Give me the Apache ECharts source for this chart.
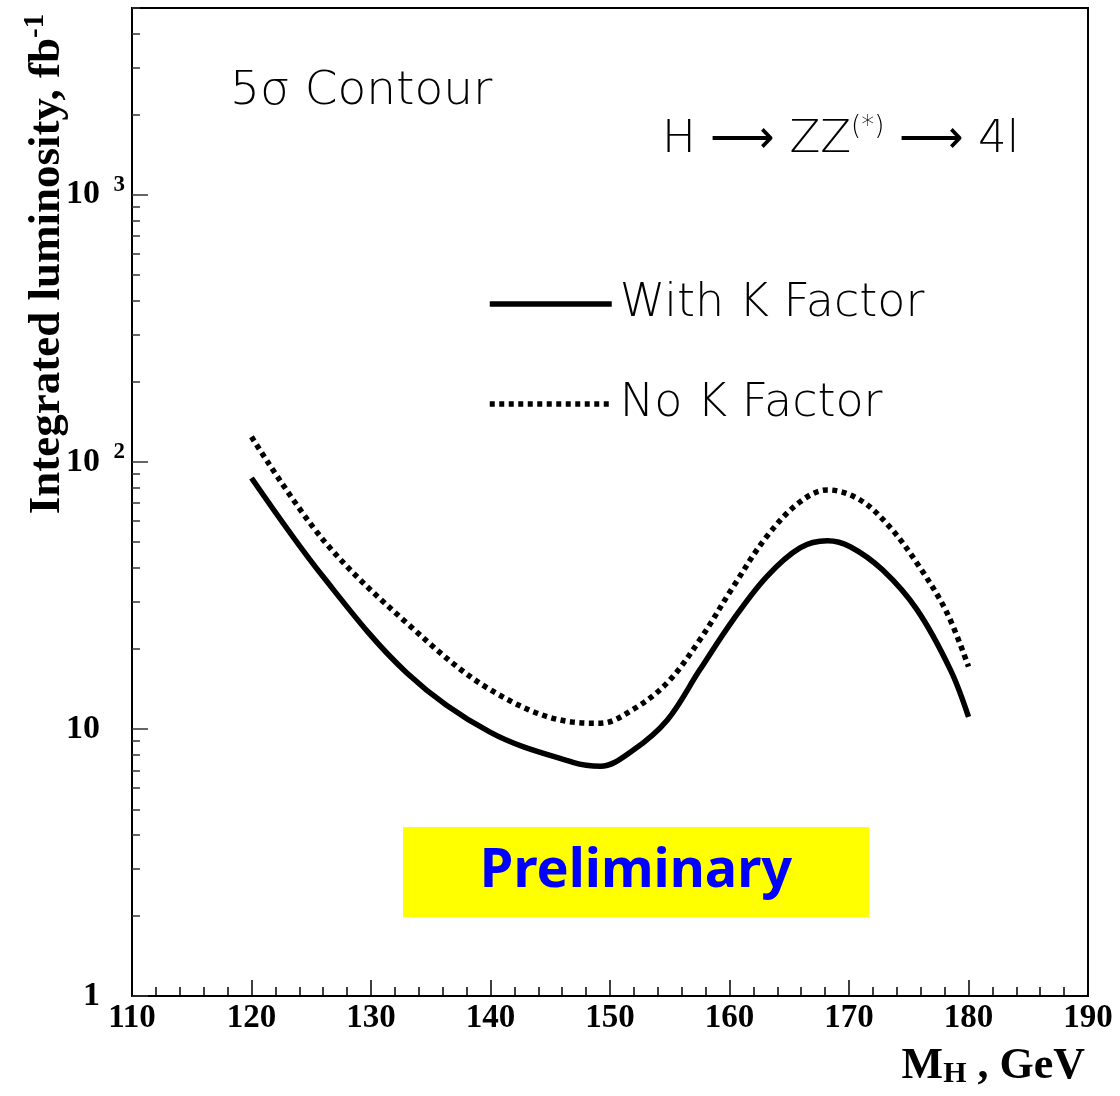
<!DOCTYPE html>
<html>
<head>
<meta charset="utf-8">
<script src="https://cdn.jsdelivr.net/npm/echarts@6/dist/echarts.min.js"></script>
<style>html,body{margin:0;padding:0;background:#fff;}#chart{width:1120px;height:1096px;}</style>
</head>
<body>
<div id="chart"></div>
<script>
// ---- data ----
const withK_mass = [120, 126, 133, 140, 146.9, 149.2, 151.9, 154.8, 157.5, 160.3, 163.1, 165.9, 168.2, 170.1, 172.8, 175.7, 178.5, 180];
const withK_lumi = [87, 37.1, 16.2, 9.7, 7.5, 7.25, 8.3, 10.8, 16.6, 25.6, 37.1, 47.6, 50.6, 48.1, 39.4, 27.9, 16.6, 11.1];
const noK_mass = [120, 126, 133, 140, 146.9, 149.2, 151.9, 154.8, 157.5, 160.3, 163.1, 165.9, 168.2, 170.9, 173.4, 175.9, 178.2, 180];
const noK_lumi = [124, 51, 24.9, 14.0, 10.6, 10.5, 11.8, 14.9, 21.5, 34.0, 52.4, 70.8, 78.5, 72.1, 57.1, 40.4, 27.2, 17.1];
const yMajorTicks = [1, 10, 100, 1000];
const yMinorTicks = [2,3,4,5,6,7,8,9,20,30,40,50,60,70,80,90,200,300,400,500,600,700,800,900,2000,3000,4000,5000];
const xTickLabels = [110, 120, 130, 140, 150, 160, 170, 180, 190];
const yExponentLabels = {1: ['1', ''], 10: ['10', ''], 100: ['10', '2'], 1000: ['10', '3']};

const zip = (a, b) => a.map((v, i) => [v, b[i]]);
const serif = "'Liberation Serif', 'Times New Roman', serif";
const thin = "'DejaVu Sans', sans-serif";

const chart = echarts.init(document.getElementById('chart'));
chart.setOption({
  animation: false,
  backgroundColor: '#fff',
  grid: {left: 132, right: 32, top: 8, bottom: 100, show: true, borderColor: '#000', borderWidth: 2, containLabel: false},
  xAxis: {
    type: 'value', min: 110, max: 190, interval: 10,
    axisLine: {show: true, onZero: false, lineStyle: {color: '#000', width: 2}},
    axisTick: {inside: true, length: 16, lineStyle: {color: '#000', width: 1.5}},
    minorTick: {show: true, splitNumber: 5, length: 9, lineStyle: {color: '#000', width: 1.5}},
    splitLine: {show: false},
    axisLabel: {
      margin: 6, color: '#000', fontFamily: serif, fontWeight: 'bold', fontSize: 33,
      customValues: xTickLabels, formatter: v => String(v)
    }
  },
  yAxis: [{
    type: 'log', logBase: 10, min: 1, max: 5000,
    axisLine: {show: true, lineStyle: {color: '#000', width: 2}},
    axisTick: {inside: true, length: 16, customValues: yMajorTicks, lineStyle: {color: '#333', width: 1.5}},
    splitLine: {show: false},
    axisLabel: {
      margin: 7, customValues: yMajorTicks,
      formatter: v => {
        const p = yExponentLabels[Math.round(v)] || [String(v), ''];
        return '{b|' + p[0] + '}{s|' + (p[1] || ' ') + '}';
      },
      rich: {
        b: {fontFamily: serif, fontWeight: 'bold', fontSize: 34, color: '#000', lineHeight: 36},
        s: {fontFamily: serif, fontWeight: 'bold', fontSize: 23, color: '#000', width: 25, align: 'right', padding: [0, 0, 20, 0], lineHeight: 23}
      }
    }
  }, {
    type: 'log', logBase: 10, min: 1, max: 5000, position: 'left',
    axisLine: {show: false},
    axisTick: {inside: true, length: 8, customValues: yMinorTicks, lineStyle: {color: '#333', width: 1.5}},
    axisLabel: {show: false},
    splitLine: {show: false}
  }],
  legend: {
    orient: 'vertical', left: 482, top: 273, itemWidth: 122, itemHeight: 12, itemGap: 48,
    selectedMode: false,
    lineStyle: {width: 5.5},
    itemStyle: {opacity: 0},
    textStyle: {fontFamily: thin, fontWeight: 200, fontSize: 46, color: '#000', lineHeight: 52, padding: [0, 0, 0, 3]},
    data: ['With K Factor', 'No K Factor']
  },
  series: [{
    name: 'With K Factor', type: 'line', smooth: 0.35, showSymbol: false, symbol: 'none',
    data: zip(withK_mass, withK_lumi),
    lineStyle: {color: '#000', width: 5.5, cap: 'butt'}, itemStyle: {color: '#000'}
  }, {
    name: 'No K Factor', type: 'line', smooth: 0.35, showSymbol: false, symbol: 'none',
    data: zip(noK_mass, noK_lumi),
    lineStyle: {color: '#000', width: 5.5, type: [5, 4.5], cap: 'butt'}, itemStyle: {color: '#000'}
  }],
  graphic: [
    {type: 'text', x: 230, y: 92, style: {text: '5σ Contour', font: '200 47px ' + thin, fill: '#000', verticalAlign: 'middle'}},
    {type: 'text', x: 662, y: 140, style: {
      text: '{t|H ⟶ ZZ}{u|(*)}{t| ⟶ 4l}', fill: '#000', verticalAlign: 'middle',
      rich: {t: {font: '200 45px ' + thin, fill: '#000', lineHeight: 54},
             u: {font: '200 26px ' + thin, fill: '#000', padding: [0, 0, 26, 0], lineHeight: 26}}
    }},
    {type: 'rect', shape: {x: 403, y: 827, width: 466, height: 90}, style: {fill: '#ffff00'}, z: 5},
    {type: 'text', x: 636, y: 872, z: 6, style: {text: 'Preliminary', font: 'bold 54px "Noto Sans", sans-serif', fill: '#0000ff', align: 'center', verticalAlign: 'middle'}},
    {type: 'text', x: 47, y: 264, rotation: Math.PI / 2, style: {
      text: '{a|Integrated luminosity, fb}{b|-1}', align: 'center', verticalAlign: 'middle',
      rich: {a: {font: 'bold 45px ' + serif, fill: '#000', lineHeight: 50},
             b: {font: 'bold 29px ' + serif, fill: '#000', padding: [0, 0, 23, 0], lineHeight: 29}}
    }},
    {type: 'text', right: 35, top: 1045, style: {
      text: '{a|M}{b|H}{a| , GeV}',
      rich: {a: {font: 'bold 44px ' + serif, fill: '#000', lineHeight: 44},
             b: {font: 'bold 30px ' + serif, fill: '#000', padding: [14, 0, 0, 0], lineHeight: 30}}
    }}
  ]
});
</script>
</body>
</html>
